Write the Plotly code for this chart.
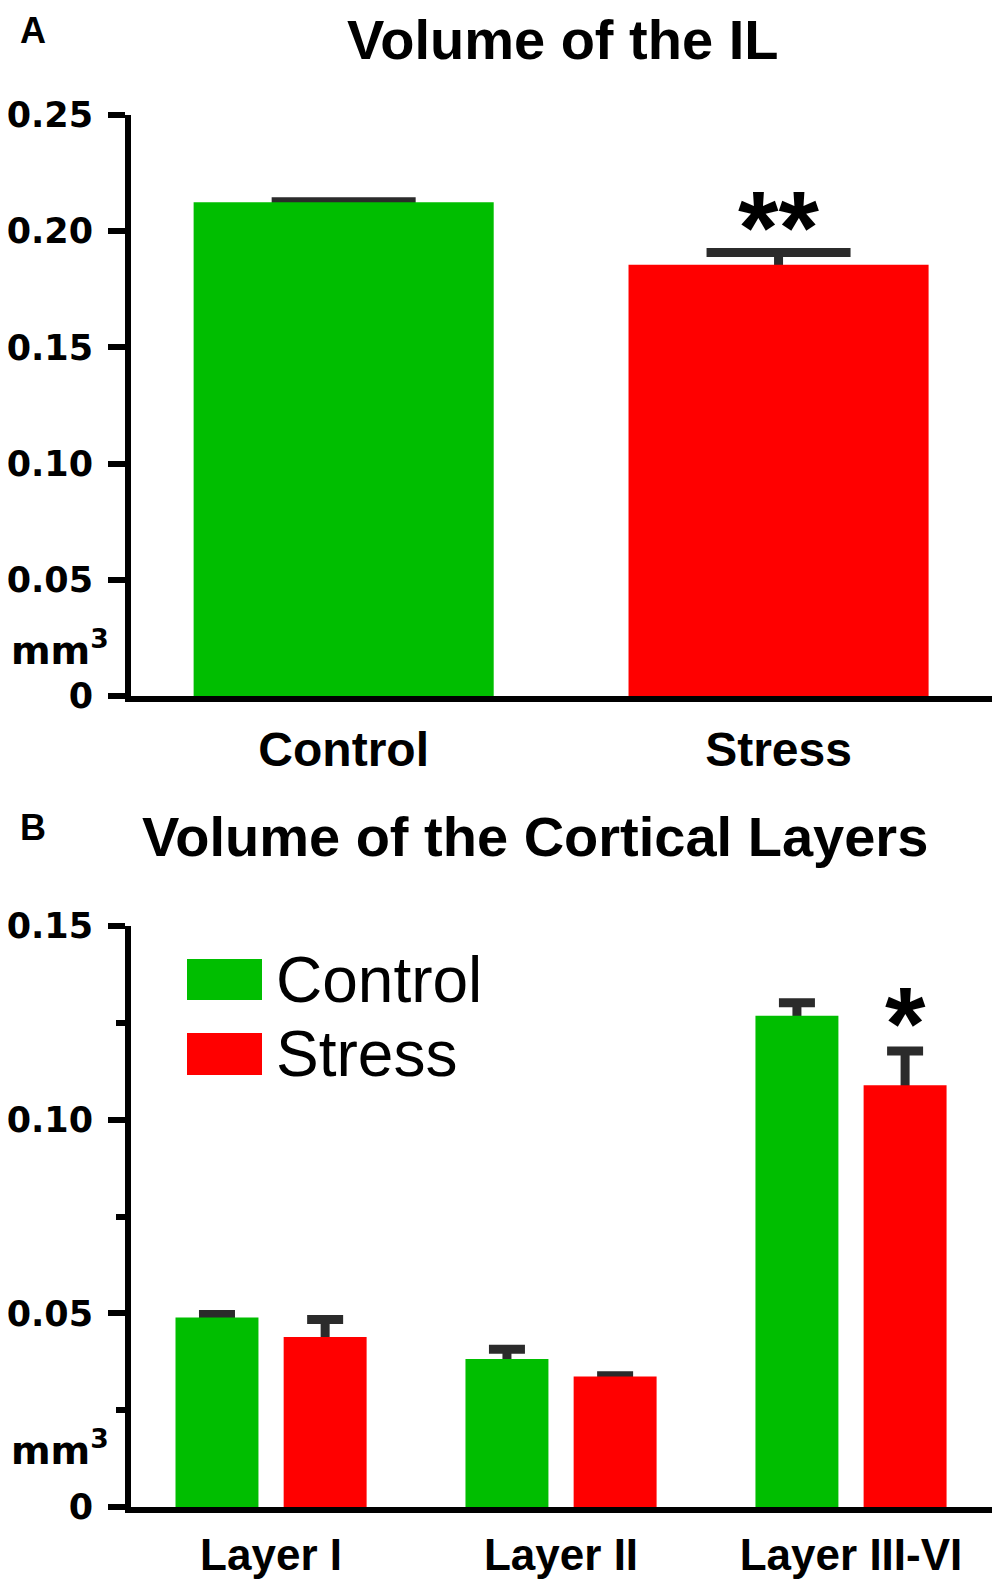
import plotly.graph_objects as go

# --- data ---
il_groups = ["Control", "Stress"]
il_volume = [0.2125, 0.1856]
il_sem = [0.0002, 0.0052]
il_stars = ["", "**"]

layers = ["Layer I", "Layer II", "Layer III-VI"]
control_volume = [0.0489, 0.0382, 0.1268]
control_sem = [0.0008, 0.0025, 0.0034]
stress_volume = [0.0439, 0.0337, 0.1089]
stress_sem = [0.0045, 0.0002, 0.0088]
stress_stars = ["", "", "*"]

y_ticks_a = [0, 0.05, 0.10, 0.15, 0.20, 0.25]
y_ticks_b = [0, 0.05, 0.10, 0.15]
# --------------------------------

GREEN = "#00BE00"
RED = "#FF0000"
ERR = "#2b2b2b"
CLEAR = "rgba(0,0,0,0)"
FONT = "Liberation Sans, Arial, sans-serif"
WIDE = "DejaVu Sans, Liberation Sans, sans-serif"
PAGE = 8  # default body margin of the html page
W, H = 1000 - PAGE, 1584 - PAGE


def px_x(x):
    return (x - PAGE) / W


def px_y(y):
    return 1 - (y - PAGE) / H


def tick_text(vals):
    return ["0" if v == 0 else f"{v:.2f}" for v in vals]


def sem_bars(sem, cap):
    return dict(type="data", symmetric=True, array=sem, color=ERR, thickness=9, width=cap)


fig = go.Figure()

# panel A: error bars on the base axis, bars on an overlay axis so they hide the lower half
fig.add_trace(go.Bar(x=il_groups, y=il_volume, width=0.69, marker=dict(color=CLEAR),
                     error_y=sem_bars(il_sem, 72),
                     xaxis="x", yaxis="y", showlegend=False, hoverinfo="skip"))
fig.add_trace(go.Bar(x=il_groups, y=il_volume, width=0.69,
                     marker=dict(color=[GREEN, RED], line=dict(width=0)),
                     xaxis="x", yaxis="y3", showlegend=False))

# panel B
fig.add_trace(go.Bar(x=layers, y=control_volume, marker=dict(color=CLEAR),
                     error_y=sem_bars(control_sem, 18),
                     xaxis="x2", yaxis="y2", showlegend=False, hoverinfo="skip"))
fig.add_trace(go.Bar(x=layers, y=stress_volume, marker=dict(color=CLEAR),
                     error_y=sem_bars(stress_sem, 18),
                     xaxis="x2", yaxis="y2", showlegend=False, hoverinfo="skip"))
fig.add_trace(go.Bar(x=layers, y=control_volume, name="Control",
                     marker=dict(color=GREEN, line=dict(width=0)),
                     xaxis="x2", yaxis="y4", showlegend=False))
fig.add_trace(go.Bar(x=layers, y=stress_volume, name="Stress",
                     marker=dict(color=RED, line=dict(width=0)),
                     xaxis="x2", yaxis="y4", showlegend=False))

annotations = []
star_font = dict(family=FONT, size=104, color="black", weight="bold")

# significance marks
for g, v, e, s in zip(il_groups, il_volume, il_sem, il_stars):
    if s:
        annotations.append(dict(x=g, y=v + e, xref="x", yref="y", text=s, showarrow=False,
                                xanchor="center", yanchor="middle", yshift=25, font=star_font))
for g, v, e, s in zip(layers, stress_volume, stress_sem, stress_stars):
    if s:
        annotations.append(dict(x=g, y=v + e, xref="x2", yref="y2", text=s, showarrow=False,
                                xanchor="center", yanchor="middle", yshift=27, xshift=54,
                                font=star_font))

# titles, panel letters, units
bold = dict(family=FONT, color="black", weight="bold")
wide_bold = dict(family=WIDE, color="black", weight="bold")


def label(x, y, text, font, xanchor="center"):
    return dict(x=px_x(x), y=px_y(y), xref="paper", yref="paper", text=text,
                showarrow=False, xanchor=xanchor, yanchor="middle", font=font)


annotations += [
    label(562, 40, "Volume of the IL", dict(bold, size=56)),
    label(535, 836, "Volume of the Cortical Layers", dict(bold, size=56)),
    label(33, 30, "A", dict(bold, size=36)),
    label(33, 828, "B", dict(bold, size=36)),
    label(9, 648, "mm<sup>3</sup>", dict(wide_bold, size=38), xanchor="left"),
    label(9, 1448, "mm<sup>3</sup>", dict(wide_bold, size=38), xanchor="left"),
]

# legend of panel B, drawn as in the original
legend_items = [("Control", GREEN, 959, 1000), ("Stress", RED, 1033, 1075)]
shapes = []
for name, col, y0, y1 in legend_items:
    shapes.append(dict(type="rect", xref="paper", yref="paper",
                       x0=px_x(187), x1=px_x(262), y0=px_y(y1), y1=px_y(y0),
                       fillcolor=col, line=dict(width=0)))
    annotations.append(label(274, (y0 + y1) / 2, name,
                             dict(family=FONT, size=64, color="black"), xanchor="left"))

axis_common = dict(showline=True, linewidth=6, linecolor="black", showgrid=False,
                   zeroline=False, fixedrange=True, automargin=False)
ytick_common = dict(axis_common, ticks="outside", ticklen=17, tickwidth=6, tickcolor="black",
                    ticklabelstandoff=8, tickfont=dict(wide_bold, size=35))

fig.update_layout(
    template="none",
    width=W, height=H, autosize=False,
    margin=dict(l=0, r=0, t=0, b=0, pad=0, autoexpand=False),
    paper_bgcolor="white", plot_bgcolor="white",
    barmode="group", bargap=0.254, bargroupgap=0.233,
    xaxis=dict(axis_common, domain=[px_x(131), px_x(996)], range=[-0.489, 1.5],
               anchor="y", ticks="", ticklabelstandoff=6,
               tickfont=dict(bold, size=48)),
    yaxis=dict(ytick_common, domain=[px_y(696), px_y(115)], range=[0, 0.25],
               anchor="x", tickvals=y_ticks_a, ticktext=tick_text(y_ticks_a)),
    yaxis3=dict(range=[0, 0.25], overlaying="y", anchor="x", visible=False,
                fixedrange=True, automargin=False),
    xaxis2=dict(axis_common, domain=[px_x(131), px_x(996)], range=[-0.483, 2.5],
                anchor="y2", ticks="", ticklabelstandoff=4,
                tickfont=dict(bold, size=44)),
    yaxis2=dict(ytick_common, domain=[px_y(1507), px_y(926)], range=[0, 0.15],
                anchor="x2", tickvals=y_ticks_b, ticktext=tick_text(y_ticks_b),
                minor=dict(dtick=0.025, ticks="outside", ticklen=9, tickwidth=6,
                           tickcolor="black")),
    yaxis4=dict(range=[0, 0.15], overlaying="y2", anchor="x2", visible=False,
                fixedrange=True, automargin=False),
    annotations=annotations,
    shapes=shapes,
)

fig.write_html("out.html")
